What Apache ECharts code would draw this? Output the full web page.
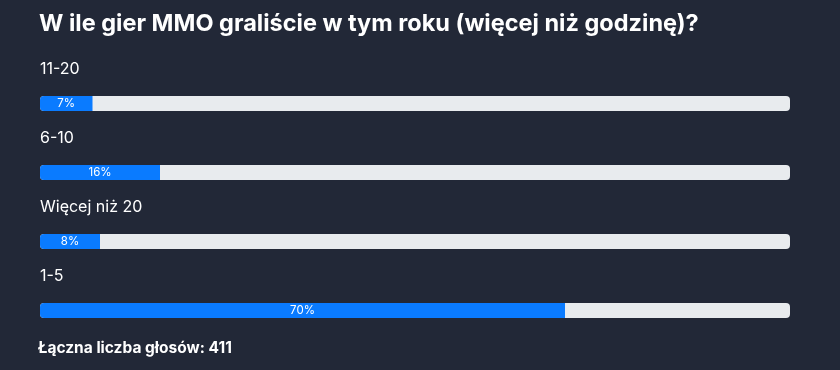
<!DOCTYPE html>
<html><head><meta charset="utf-8">
<script src="https://cdn.jsdelivr.net/npm/echarts@6/dist/echarts.min.js"></script>
<style>html,body{margin:0;padding:0;background:#222837;}#c{width:840px;height:370px;}</style>
</head><body><div id="c"></div>
<script>
const categories = ['11-20', '6-10', 'Więcej niż 20', '1-5'];
const percentValues = [7, 16, 8, 70];
const trackValues = [100, 100, 100, 100];
const titleText = 'W ile gier MMO graliście w tym roku (więcej niż godzinę)?';
const footerText = 'Łączna liczba głosów: 411';

const FONT = 'Inter, "Noto Sans", sans-serif';
const chart = echarts.init(document.getElementById('c'));
chart.setOption({
  backgroundColor: '#222837',
  animation: false,
  title: [{
    text: titleText, left: 34, top: 7,
    textStyle: {color: '#ffffff', fontSize: 23.5, fontWeight: 'bold', fontFamily: FONT}
  }, {
    text: footerText, left: 33, top: 335,
    textStyle: {color: '#ffffff', fontSize: 15.5, fontWeight: 'bold', fontFamily: FONT}
  }],
  grid: {left: 40, right: 50, top: 69, bottom: 25},
  xAxis: {type: 'value', min: 0, max: 100, show: false},
  yAxis: {type: 'category', data: categories, inverse: true, show: false},
  series: [{
    type: 'bar', data: trackValues, barWidth: 15, barGap: '-100%', z: 1,
    itemStyle: {color: '#e8ebee', borderRadius: 4},
    label: {
      show: true, position: [0, -35], color: '#ffffff', fontSize: 16,
      fontFamily: FONT,
      formatter: p => categories[p.dataIndex]
    },
    silent: true
  }, {
    type: 'bar', data: percentValues, barWidth: 15, z: 2,
    itemStyle: {color: '#0a7bff', borderRadius: [4, 0, 0, 4]},
    label: {
      show: true, position: 'inside', color: '#ffffff', fontSize: 11.5,
      fontFamily: FONT, formatter: '{c}%'
    }
  }]
});
</script></body></html>
